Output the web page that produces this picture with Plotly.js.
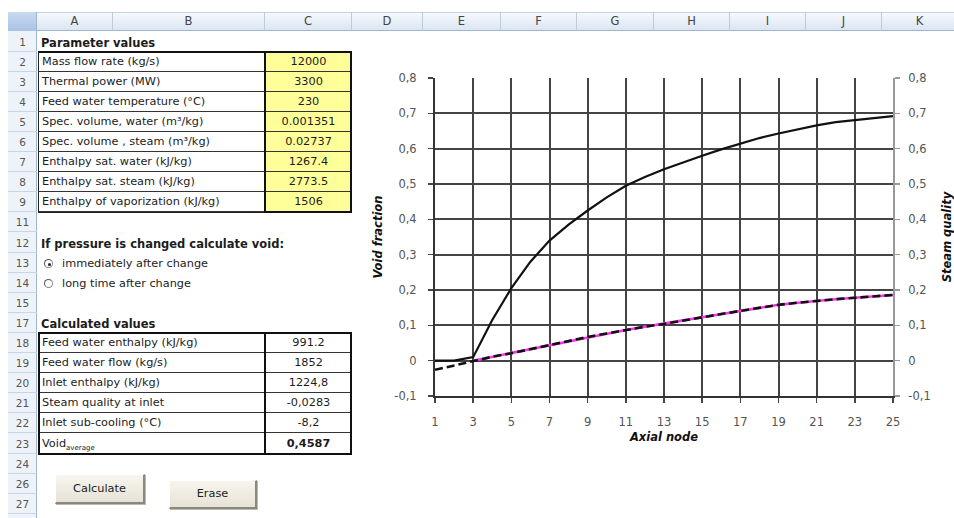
<!DOCTYPE html>
<html>
<head>
<meta charset="utf-8">
<script src="https://cdn.plot.ly/plotly-3.0.1.min.js"></script>
<style>
  html, body { margin:0; padding:0; background:#ffffff; }
  #wrap { position:relative; width:954px; height:518px; overflow:hidden; background:#fff; }
  #chart { position:absolute; left:0; top:0; width:954px; height:518px; z-index:1; }
  #sheet { position:absolute; left:0; top:0; width:954px; height:518px; z-index:2; pointer-events:none;
           font-family:"DejaVu Sans", Verdana, sans-serif; color:#1c1c1c; }
  .abs { position:absolute; box-sizing:border-box; white-space:nowrap; }
</style>
</head>
<body>
<div id="wrap">
  <div id="chart"></div>
  <div id="sheet"></div>
</div>
<script>
// ---------------- chart data ----------------
const axialNodes = [1,2,3,4,5,6,7,8,9,10,11,12,13,14,15,16,17,18,19,20,21,22,23,24,25];
const voidFraction = [0,0,0.01,0.115,0.205,0.28,0.34,0.385,0.425,0.462,0.495,0.52,0.542,0.562,0.58,0.598,0.615,0.63,0.643,0.655,0.666,0.675,0.681,0.687,0.692];
const steamQualityFlow = [null,null,0.0,0.011,0.021,0.033,0.044,0.056,0.067,0.077,0.087,0.096,0.104,0.114,0.123,0.132,0.141,0.15,0.158,0.164,0.17,0.174,0.178,0.182,0.186];
const steamQualityEq = [-0.026,-0.013,0.0,0.011,0.021,0.033,0.044,0.056,0.067,0.077,0.087,0.096,0.104,0.114,0.123,0.132,0.141,0.15,0.158,0.164,0.17,0.174,0.178,0.182,0.186];
const xTickVals = [1,3,5,7,9,11,13,15,17,19,21,23,25];
const yTickVals = [-0.1,0,0.1,0.2,0.3,0.4,0.5,0.6,0.7,0.8];
const yTickText = ['-0,1','0','0,1','0,2','0,3','0,4','0,5','0,6','0,7','0,8'];

// ---------------- sheet data ----------------
const columnLetters = ['A','B','C','D','E','F','G','H','I','J','K'];
const rowNumbers = [1,2,3,4,5,6,7,8,9,11,12,13,14,15,17,18,19,20,21,22,23,24,26,27];
const paramLabels = ['Mass flow rate (kg/s)','Thermal power (MW)','Feed water temperature (°C)','Spec. volume, water (m³/kg)','Spec. volume , steam (m³/kg)','Enthalpy sat. water (kJ/kg)','Enthalpy sat. steam (kJ/kg)','Enthalpy of vaporization (kJ/kg)'];
const paramValues = ['12000','3300','230','0.001351','0.02737','1267.4','2773.5','1506'];
const calcLabels = ['Feed water enthalpy (kJ/kg)','Feed water flow (kg/s)','Inlet enthalpy (kJ/kg)','Steam quality at inlet','Inlet sub-cooling  (°C)','Void<sub style="font-size:7px">average</sub>'];
const calcValues = ['991.2','1852','1224,8','-0,0283','-8,2','0,4587'];
const radioOptions = ['immediately after change','long time after change'];
const buttonLabels = ['Calculate','Erase'];

// ---------------- chart ----------------
const tickFont = {family:'"DejaVu Sans", Verdana, sans-serif', size:11.5, color:'#555'};
const titleFont = {family:'"DejaVu Sans", Verdana, sans-serif', size:11.5, color:'#111'};
const traces = [
  {x:axialNodes, y:steamQualityFlow, yaxis:'y2', type:'scatter', mode:'lines', line:{color:'#ff33ee', width:2.6}, hoverinfo:'skip'},
  {x:axialNodes, y:steamQualityEq, yaxis:'y2', type:'scatter', mode:'lines', line:{color:'#111', width:2.6, dash:'8px,4px'}, hoverinfo:'skip'},
  {x:axialNodes, y:voidFraction, yaxis:'y', type:'scatter', mode:'lines', line:{color:'#111', width:2.2}, hoverinfo:'skip'}
];
const layout = {
  width:954, height:518,
  margin:{l:435, r:61, t:78, b:122},
  paper_bgcolor:'rgba(0,0,0,0)', plot_bgcolor:'#ffffff',
  showlegend:false,
  xaxis:{range:[1,25], tickvals:xTickVals, showgrid:true, gridcolor:'#444', gridwidth:2, zeroline:false,
         showline:true, linecolor:'#333', linewidth:2, ticks:'outside', ticklen:5, tickcolor:'#444', tickwidth:1.5,
         ticklabelstandoff:9, tickfont:tickFont, title:{text:'<b><i>Axial node</i></b>', font:titleFont, standoff:5}},
  yaxis:{range:[-0.1,0.8], tickvals:yTickVals, ticktext:yTickText, showgrid:true, gridcolor:'#444', gridwidth:2,
         zeroline:false, showline:true, linecolor:'#333', linewidth:2, ticks:'outside', ticklen:5, tickcolor:'#444', tickwidth:1.5,
         ticklabelstandoff:9, tickfont:tickFont, title:{text:'<b><i>Void fraction</i></b>', font:titleFont, standoff:9}},
  yaxis2:{range:[-0.1,0.8], overlaying:'y', side:'right', tickvals:yTickVals, ticktext:yTickText, showgrid:false,
          zeroline:false, showline:true, linecolor:'#999', linewidth:2, ticks:'outside', ticklen:5, tickcolor:'#999', tickwidth:1.5,
          ticklabelstandoff:6, tickfont:tickFont, title:{text:'<b><i>Steam quality</i></b>', font:titleFont, standoff:14}}
};
Plotly.newPlot('chart', traces, layout, {staticPlot:true, displayModeBar:false});

// ---------------- sheet ----------------
const sheet = document.getElementById('sheet');
function el(css, html) {
  const d = document.createElement('div');
  d.className = 'abs';
  d.style.cssText = css;
  if (html !== undefined) d.innerHTML = html;
  sheet.appendChild(d);
  return d;
}
const colEdges = [37,113,265,352,423,501,577,654,730,806,882,958];
const headTop = 12, headBot = 31, rowH = 20.1;
function rowTop(i){ return headBot + 0.5 + rowH*i; }

// column header band
el(`left:8px;top:${headTop}px;width:946px;height:${headBot-headTop}px;background:linear-gradient(#f6f9fd,#dbe5f2);border-top:1px solid #c3d2e4;border-bottom:1px solid #9fb5cf;`);
el(`left:8px;top:${headTop}px;width:29px;height:${headBot-headTop}px;background:linear-gradient(#c9daf0,#a9c3e6);border-right:1px solid #9fb5cf;`);
columnLetters.forEach((c,k)=>{
  const x0 = colEdges[k], x1 = colEdges[k+1];
  el(`left:${x0}px;top:${headTop}px;width:${x1-x0}px;height:${headBot-headTop}px;border-right:1px solid #bccbdc;text-align:center;line-height:${headBot-headTop}px;font-size:11.5px;color:#444;`, c);
});
// row header column
el(`left:8px;top:${headBot}px;width:29px;height:${518-headBot}px;background:#eef3fa;border-right:1px solid #9fb5cf;`);
rowNumbers.forEach((r,i)=>{
  const t = rowTop(i);
  el(`left:8px;top:${t}px;width:29px;height:${rowH}px;border-bottom:1px solid #c8d5e6;text-align:center;line-height:${rowH}px;font-size:10.5px;color:#555;`, String(r));
});

// Parameter values
el(`left:41px;top:${rowTop(0)}px;height:${rowH}px;line-height:${rowH+2}px;font-size:11.5px;font-weight:bold;`, 'Parameter values');
const t1Top = rowTop(1), t1Bot = rowTop(1+paramLabels.length);
paramLabels.forEach((lab,k)=>{
  const t = rowTop(1+k);
  el(`left:38px;top:${t}px;width:${colEdges[2]-38}px;height:${rowH}px;border-bottom:1px solid #333;padding-left:4px;line-height:${rowH}px;font-size:11.3px;`, lab);
  el(`left:${colEdges[2]}px;top:${t}px;width:${colEdges[3]-colEdges[2]}px;height:${rowH}px;background:#ffff99;border-bottom:1px solid #333;text-align:center;line-height:${rowH}px;font-size:11.3px;`, paramValues[k]);
});
el(`left:38px;top:${t1Top-1}px;width:${colEdges[3]-38}px;height:${t1Bot-t1Top+2}px;border:1px solid #222;border-top:2px solid #111;`);
el(`left:${colEdges[2]-1}px;top:${t1Top-1}px;width:${colEdges[3]-colEdges[2]+1}px;height:${t1Bot-t1Top+2}px;border:2px solid #111;`);

// void calculation option
el(`left:41px;top:${rowTop(10)}px;height:${rowH}px;line-height:${rowH+2}px;font-size:11.5px;font-weight:bold;`, 'If pressure is changed calculate void:');
radioOptions.forEach((txt,k)=>{
  const t = rowTop(11+k);
  const dot = k===0 ? '<span style="position:absolute;left:3px;top:3px;width:3px;height:3px;border-radius:50%;background:#222"></span>' : '';
  el(`left:44px;top:${t+6}px;width:9px;height:9px;border-radius:50%;border:1px solid #888;border-top-color:#555;border-left-color:#555;background:#fff;`, dot);
  el(`left:62px;top:${t}px;height:${rowH}px;line-height:${rowH+2}px;font-size:11.3px;`, txt);
});

// Calculated values
el(`left:41px;top:${rowTop(14)}px;height:${rowH}px;line-height:${rowH+2}px;font-size:11.5px;font-weight:bold;`, 'Calculated values');
const t2Top = rowTop(15), t2Bot = rowTop(15+calcLabels.length);
calcLabels.forEach((lab,k)=>{
  const t = rowTop(15+k);
  const last = k===calcLabels.length-1;
  el(`left:38px;top:${t}px;width:${colEdges[2]-38}px;height:${rowH+(last?1:0)}px;border-bottom:1px solid #333;padding-left:4px;line-height:${rowH}px;font-size:11.3px;`, lab);
  el(`left:${colEdges[2]}px;top:${t}px;width:${colEdges[3]-colEdges[2]}px;height:${rowH}px;border-bottom:1px solid #333;text-align:center;line-height:${rowH}px;font-size:11.3px;${last?'font-weight:bold;':''}`, calcValues[k]);
});
el(`left:38px;top:${t2Top-1}px;width:${colEdges[3]-38}px;height:${t2Bot-t2Top+2}px;border:2px solid #111;`);
el(`left:${colEdges[2]-1}px;top:${t2Top-1}px;width:2px;height:${t2Bot-t2Top+2}px;background:#111;`);

// buttons
const btnBoxes = [[55,474,90,30],[169,480,88,29]];
buttonLabels.forEach((b,k)=>{
  const [x,y,w,h] = btnBoxes[k];
  el(`left:${x}px;top:${y}px;width:${w}px;height:${h}px;background:linear-gradient(#f7f5ee,#e6e2d6);border:1px solid #fff;border-right:2px solid #8a877e;border-bottom:2px solid #8a877e;box-shadow:1px 1px 0 #bdb9ad;text-align:center;line-height:${h-3}px;font-size:11.3px;color:#222;`, b);
});
</script>
</body>
</html>
